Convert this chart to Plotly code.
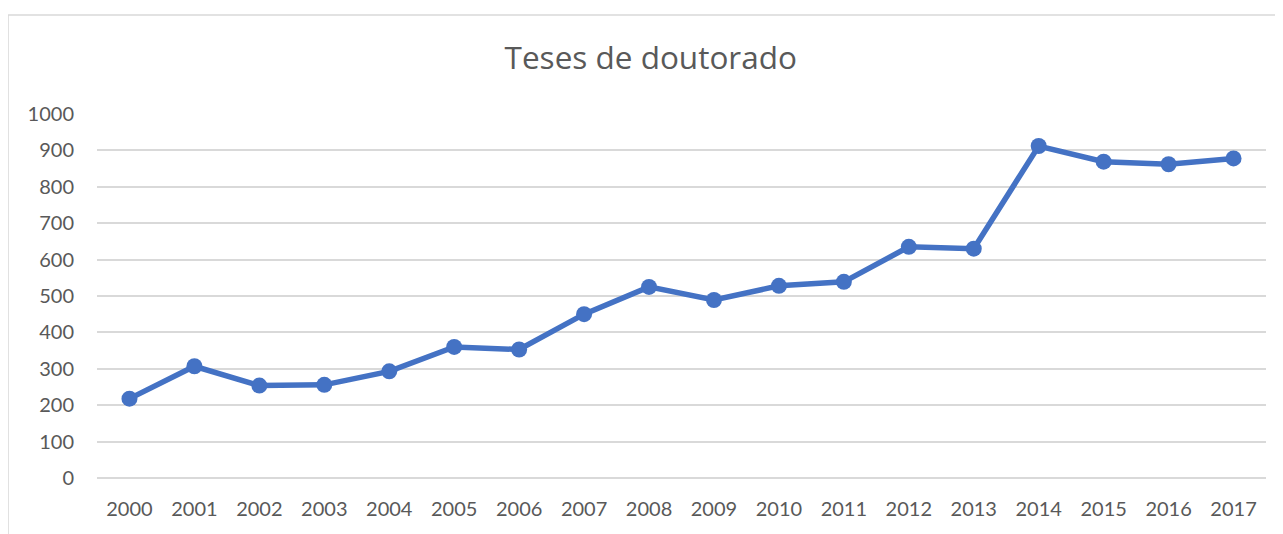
import plotly.graph_objects as go

# dados
anos = [str(a) for a in range(2000, 2018)]
teses = [218, 307, 254, 256, 293, 360, 353, 450, 525, 489,
         528, 539, 635, 630, 912, 869, 862, 878]
y_ticks = [0, 100, 200, 300, 400, 500, 600, 700, 800, 900, 1000]

cor_linha = '#4472C4'
cor_texto = '#595959'
cor_grade = '#D9D9D9'

fig = go.Figure()

fig.add_trace(go.Scatter(
    x=anos,
    y=teses,
    mode='lines+markers',
    line=dict(color=cor_linha, width=5.5),
    marker=dict(color=cor_linha, size=16),
    showlegend=False,
))

# a página tem margem de 8px no body, por isso as margens descontam 8px
fig.update_layout(
    width=1283,
    height=534,
    margin=dict(l=89, r=25, t=106, b=64),
    paper_bgcolor='white',
    plot_bgcolor='white',
    font=dict(family='Lato, Open Sans, sans-serif', color=cor_texto, size=20),
    title=dict(
        text='Teses de doutorado',
        x=0.501, xanchor='center',
        y=0.906, yanchor='middle',
        font=dict(family='Open Sans, Lato, sans-serif', size=31.5, color=cor_texto),
    ),
    xaxis=dict(
        type='category',
        range=[-0.5, len(anos) - 0.5],
        showgrid=False,
        showline=False,
        ticks='',
        ticklabelstandoff=17,
        tickfont=dict(size=20, color=cor_texto),
    ),
    yaxis=dict(
        range=[0, 1000],
        tickvals=y_ticks,
        showgrid=True,
        gridcolor=cor_grade,
        gridwidth=1.5,
        zeroline=True,
        zerolinecolor=cor_grade,
        zerolinewidth=1.5,
        showline=False,
        ticks='',
        ticklabelstandoff=22,
        tickfont=dict(size=20, color=cor_texto),
    ),
)

# moldura da área do gráfico (bordas visíveis no recorte)
fig.add_shape(type='line', xref='paper', yref='paper',
              x0=-0.0761, x1=-0.0761, y0=-0.3, y1=1.272,
              line=dict(color=cor_grade, width=1.5))
fig.add_shape(type='line', xref='paper', yref='paper',
              x0=-0.0761, x1=1.1, y0=1.272, y1=1.272,
              line=dict(color=cor_grade, width=1.5))

fig.write_html("out.html")
